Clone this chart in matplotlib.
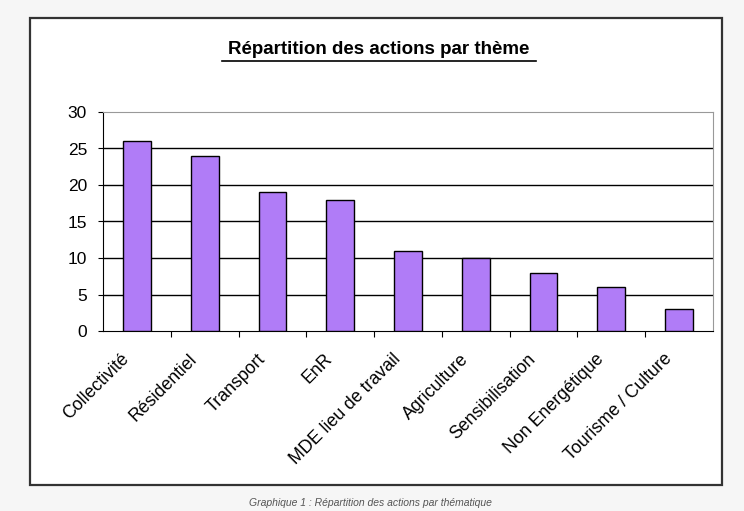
import matplotlib.pyplot as plt
from matplotlib.patches import Rectangle
from matplotlib.lines import Line2D
from matplotlib.transforms import ScaledTranslation

themes = ["Collectivité", "Résidentiel", "Transport", "EnR", "MDE lieu de travail",
          "Agriculture", "Sensibilisation", "Non Energétique", "Tourisme / Culture"]
nb_actions = [26, 24, 19, 18, 11, 10, 8, 6, 3]
y_ticks = [0, 5, 10, 15, 20, 25, 30]

plt.rcParams['font.family'] = ['Liberation Sans', 'DejaVu Sans']

fig = plt.figure(figsize=(7.44, 5.11), dpi=100, facecolor='#f6f6f6')

# cadre blanc du graphique
cadre = Rectangle((30 / 744, 1 - 485 / 511), 692 / 744, 467 / 511, transform=fig.transFigure,
                  facecolor='white', edgecolor='#333333', linewidth=1.6, zorder=0)
fig.add_artist(cadre)

ax = fig.add_axes([103 / 744, 1 - 331 / 511, 610 / 744, 219 / 511])
x = range(len(themes))
ax.bar(x, nb_actions, width=0.41, color='#b07cf7', edgecolor='black', linewidth=1.0, zorder=3)

ax.set_xlim(-0.5, len(themes) - 0.5)
ax.set_ylim(0, 30)
ax.set_yticks(y_ticks)
ax.tick_params(axis='y', labelsize=12.5, length=3.5, direction='out', pad=8)
for yv in y_ticks[1:-1]:
    ax.axhline(yv, color='black', linewidth=1.0, zorder=1)

# graduations x entre les categories
ax.set_xticks([i + 0.5 for i in range(len(themes) - 1)], minor=False)
ax.set_xticklabels([])
ax.tick_params(axis='x', length=4, direction='out')
ax.set_xticks(list(x), minor=True)
ax.set_xticklabels(themes, minor=True, rotation=45, ha='right', rotation_mode='anchor', fontsize=12.8)
ax.tick_params(axis='x', which='minor', length=0, pad=14)
decalage = ScaledTranslation(-16 / 100, 0, fig.dpi_scale_trans)
for lab in ax.get_xticklabels(minor=True):
    lab.set_transform(lab.get_transform() + decalage)

for s in ['top', 'right']:
    ax.spines[s].set_color('#999999')
ax.spines['left'].set_color('black')
ax.spines['bottom'].set_color('black')

fig.text(379 / 744, 1 - 50 / 511, "Répartition des actions par thème", ha='center', va='center',
         fontsize=13.5, fontweight='bold')
fig.add_artist(Line2D([222 / 744, 536 / 744], [1 - 61 / 511, 1 - 61 / 511], color='black', linewidth=1.2))

fig.text(370 / 744, 1 - 503 / 511, "Graphique 1 : Répartition des actions par thématique",
         ha='center', va='center', fontsize=7.5, style='italic', color='#555555')

fig.savefig("out.png", dpi=100, facecolor=fig.get_facecolor())
